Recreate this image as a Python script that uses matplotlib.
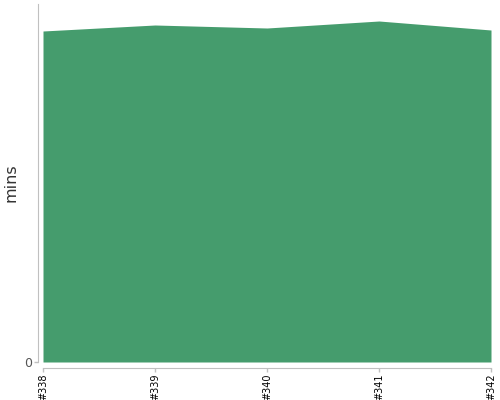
import matplotlib
matplotlib.use("Agg")
import matplotlib.pyplot as plt

builds = ["#338", "#339", "#340", "#341", "#342"]
mins = [33.1, 33.7, 33.4, 34.1, 33.2]

fig = plt.figure(figsize=(5, 4), dpi=100)
ax = fig.add_axes([43 / 500, 38 / 400, 448 / 500, 358 / 400])

# spine positions first: moving a spine resets the ticks
for side in ["top", "right"]:
    ax.spines[side].set_visible(False)
ax.spines["left"].set_position(("outward", 3.5))
ax.spines["bottom"].set_position(("outward", 4))
ax.spines["left"].set_color("#c0c0c0")
ax.spines["bottom"].set_color("#c0c0c0")

x = range(len(builds))
ax.fill_between(x, 0, mins, color="#459c6d", linewidth=0)

ax.set_xlim(0, len(builds) - 1)
ax.set_ylim(0, 35.8)
ax.set_xticks(list(x))
ax.set_xticklabels(builds, fontsize=7, color="black", rotation=90)
ax.set_yticks([0])
ax.set_yticklabels(["0"], fontsize=9, color="#555555")
ax.set_ylabel("mins", fontsize=11.5, color="#333333")
ax.yaxis.set_label_coords(-0.054, 0.5)

ax.tick_params(axis="both", color="#c0c0c0", length=3, width=1, pad=1.5)

fig.savefig("out.png")
